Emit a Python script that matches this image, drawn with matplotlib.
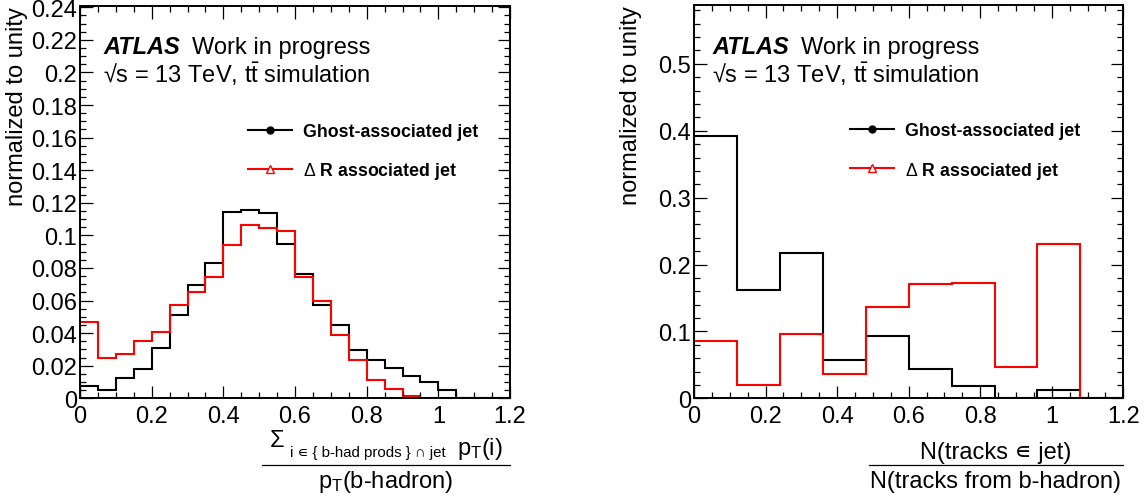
import numpy as np
import matplotlib
matplotlib.use("Agg")
import matplotlib.pyplot as plt
from matplotlib.lines import Line2D
from matplotlib.ticker import MultipleLocator, FuncFormatter

plt.rcParams['font.family'] = ['Liberation Sans', 'DejaVu Sans']
plt.rcParams['mathtext.fontset'] = 'custom'
plt.rcParams['mathtext.rm'] = 'Liberation Sans'
plt.rcParams['mathtext.it'] = 'Liberation Sans'
plt.rcParams['mathtext.bf'] = 'Liberation Sans:bold'

# ---------------- data ----------------
left_edges = np.round(np.arange(0, 1.2001, 0.05), 4)
left_ghost = [0.0078, 0.0053, 0.0125, 0.0181, 0.0306, 0.0514, 0.0693, 0.0829,
              0.1141, 0.1153, 0.1135, 0.0946, 0.0761, 0.0572, 0.0452, 0.0294,
              0.0236, 0.0185, 0.0136, 0.0099, 0.0049, 0.0, 0.0, 0.0]
left_dr = [0.0469, 0.0249, 0.0269, 0.0352, 0.0407, 0.0572, 0.0650, 0.0744,
           0.0942, 0.1065, 0.1044, 0.1024, 0.0744, 0.0596, 0.0387, 0.0238,
           0.0115, 0.0058, 0.0012, 0.0003, 0.0, 0.0, 0.0, 0.0]

right_edges = np.round(np.arange(0, 1.2001, 0.12), 4)
right_ghost = [0.3916, 0.1624, 0.2177, 0.0578, 0.0927, 0.0438, 0.0179, 0.0, 0.0130, 0.0]
right_dr = [0.0852, 0.0194, 0.0967, 0.0359, 0.1365, 0.1709, 0.1724, 0.0463, 0.2307, 0.0]

series_labels = ["Ghost-associated jet", r"$\Delta$ R associated jet"]
ylabel = "normalized to unity"

W, H = 1146, 502
fig = plt.figure(figsize=(W / 100, H / 100), dpi=100)

def px_ax(x0, y0, x1, y1):
    return fig.add_axes([x0 / W, 1 - y1 / H, (x1 - x0) / W, (y1 - y0) / H])

axL = px_ax(80, 7, 510, 399.3)
axR = px_ax(694, 6, 1123.3, 399.3)

fmt = FuncFormatter(lambda v, p: "%g" % round(v, 6))

def style(ax, ymax, ymaj, ymin):
    ax.set_xlim(0, 1.2)
    ax.set_ylim(0, ymax)
    ax.xaxis.set_major_locator(MultipleLocator(0.2))
    ax.xaxis.set_minor_locator(MultipleLocator(0.05))
    ax.yaxis.set_major_locator(MultipleLocator(ymaj))
    ax.yaxis.set_minor_locator(MultipleLocator(ymin))
    ax.xaxis.set_major_formatter(fmt)
    ax.yaxis.set_major_formatter(fmt)
    ax.tick_params(which='both', direction='in', top=True, right=True,
                   labelsize=17, width=0.9)
    ax.tick_params(which='major', length=9)
    ax.tick_params(which='minor', length=4.5)
    ax.tick_params(axis='x', pad=5)
    ax.tick_params(axis='y', pad=2)
    for s in ax.spines.values():
        s.set_linewidth(1.4)
    ax.set_ylabel(ylabel, fontsize=17, loc='top')
    ax.yaxis.set_label_coords(-0.122, 1.0)

style(axL, 0.2408, 0.02, 0.005)
style(axR, 0.588, 0.1, 0.02)

for ax, edges, g, d in [(axL, left_edges, left_ghost, left_dr),
                        (axR, right_edges, right_ghost, right_dr)]:
    ax.stairs(g, edges, color='black', linewidth=1.5, baseline=0)
    ax.stairs(d, edges, color='red', linewidth=1.5, baseline=0)
    handles = [Line2D([], [], color='black', lw=1.5, marker='o', markersize=5),
               Line2D([], [], color='red', lw=1.5, marker='^', markersize=6,
                      markerfacecolor='white', markeredgecolor='red')]
    ax.legend(handles, series_labels, frameon=False, loc='upper left',
              prop={'weight': 'bold', 'size': 12.8}, handlelength=2.5,
              handletextpad=0.6, labelspacing=1.15, borderpad=0, borderaxespad=0,
              bbox_to_anchor=(0.39 if ax is axL else 0.363, 0.702))

def ftext(x, y, s, **kw):
    kw.setdefault('va', 'baseline')
    return fig.text(x / W, 1 - y / H, s, **kw)

for x0 in (103, 712):
    ftext(x0, 54, "ATLAS", fontsize=17, weight='bold', style='italic')
    ftext(x0 + 89, 54, "Work in progress", fontsize=17)
    ftext(x0, 83, "\u221as = 13 TeV, t$\\bar{\\mathrm{t}}$ simulation", fontsize=17)

# x-axis title, left (fraction)
ftext(270, 447, "\u03a3", fontsize=17)
ftext(290, 457, "i \u220a { b-had prods } \u2229 jet", fontsize=10.8)
ftext(457, 455, "p$_{\\mathrm{T}}$(i)", fontsize=17)
fig.add_artist(Line2D([261.7 / W, 510 / W], [1 - 466 / H, 1 - 466 / H], color='black', lw=0.9))
ftext(386, 488, "p$_{\\mathrm{T}}$(b-hadron)", fontsize=17, ha='center')

# x-axis title, right (fraction)
ftext(996, 459, "N(tracks \u220a jet)", fontsize=17, ha='center')
fig.add_artist(Line2D([869 / W, 1123 / W], [1 - 466 / H, 1 - 466 / H], color='black', lw=0.9))
ftext(996, 488, "N(tracks from b-hadron)", fontsize=17, ha='center')

fig.savefig("out.png", dpi=100)
